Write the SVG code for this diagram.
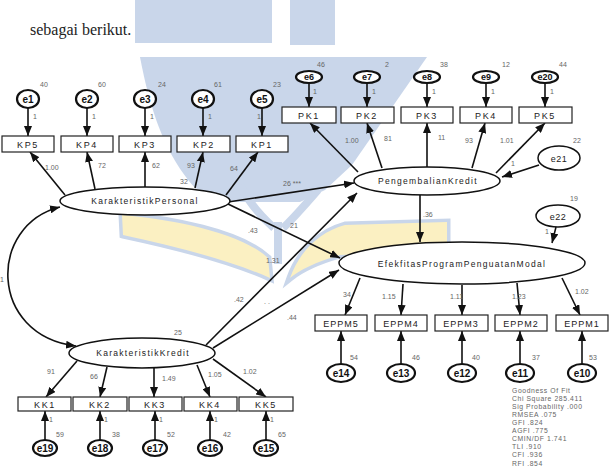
<svg xmlns="http://www.w3.org/2000/svg" width="610" height="470" viewBox="0 0 610 470">
<defs>
<marker id="ah" markerWidth="10" markerHeight="8" refX="10" refY="4" orient="auto-start-reverse" markerUnits="userSpaceOnUse"><path d="M0,0 L10,4 L0,8 z" fill="#111"/></marker>
<style>
.wb{fill:#c9d6ea;stroke:none}
.wy{fill:#fbf0c2;stroke:#c9d6ea;stroke-width:7;paint-order:stroke}
.wl{fill:none;stroke:#c9d6ea;stroke-width:8}
.c{fill:none;stroke:#111;stroke-width:1.6;marker-end:url(#ah)}
.box{fill:#fff;stroke:#222;stroke-width:1.2}
.lat{fill:#fff;stroke:#111;stroke-width:1.5}
.err{fill:#fff;stroke:#111;stroke-width:2.2}
text{font-family:"Liberation Sans",Arial,sans-serif}
.bl{font-size:9px;letter-spacing:1.6px;fill:#222;text-anchor:middle}
.ll{font-size:8.5px;letter-spacing:1.3px;fill:#222;text-anchor:middle}
.el{font-size:10px;font-weight:bold;fill:#111;text-anchor:middle}
.es{font-size:9px;font-weight:bold;fill:#111;text-anchor:middle}
.n{font-size:7px;fill:#666}
.g{font-size:6.8px;fill:#666;letter-spacing:0.6px}
</style>
</defs>
<rect width="610" height="470" fill="#fff"/>
<g id="watermark">
<rect class="wb" x="135" y="0" width="137" height="43"/>
<rect class="wb" x="290" y="0" width="45" height="45"/>
<path class="wb" d="M140,57 L427,57 L352,165 L325,190 L300,202 L230,202 L195,188 C165,155 150,110 140,57 Z"/>
<path class="wy" d="M122,215 C170,219 240,232 268,258 L270,278 C230,260 170,245 123,235 Z"/>
<path class="wy" d="M290,278 C300,250 320,232 345,225 L447,222 L447,250 L340,255 C315,262 300,270 290,278 Z"/>
<path class="wl" d="M240,185 C250,205 265,220 274,228"/>
<path class="wl" d="M318,190 C305,205 292,220 283,228"/>
<rect class="wb" x="274" y="222" width="8" height="42"/>
</g>
<text x="30" y="35" font-size="16" fill="#222" style="font-family:'Liberation Serif',serif">sebagai berikut.</text>
<g id="connectors">
<line class="c" x1="28" y1="108" x2="28" y2="136"/>
<line class="c" x1="87" y1="108" x2="87" y2="136"/>
<line class="c" x1="145" y1="108" x2="145" y2="136"/>
<line class="c" x1="203" y1="108" x2="203" y2="136"/>
<line class="c" x1="262" y1="108" x2="262" y2="136"/>
<line class="c" x1="65" y1="195" x2="30" y2="152"/>
<line class="c" x1="95" y1="189" x2="87" y2="152"/>
<line class="c" x1="145" y1="187" x2="145" y2="152"/>
<line class="c" x1="195" y1="188" x2="203" y2="152"/>
<line class="c" x1="226" y1="195" x2="258" y2="152"/>
<path class="c" d="M60,207 C-12,225 -12,335 76,346" style="marker-start:url(#ah)"/>
<line class="c" x1="77" y1="361" x2="46" y2="397"/>
<line class="c" x1="107" y1="367" x2="100" y2="397"/>
<line class="c" x1="154" y1="368" x2="154" y2="397"/>
<line class="c" x1="197" y1="365" x2="210" y2="397"/>
<line class="c" x1="213" y1="359" x2="266" y2="397"/>
<line class="c" x1="45" y1="440" x2="45" y2="411"/>
<line class="c" x1="100" y1="440" x2="100" y2="411"/>
<line class="c" x1="155" y1="440" x2="155" y2="411"/>
<line class="c" x1="210" y1="440" x2="210" y2="411"/>
<line class="c" x1="266" y1="440" x2="266" y2="411"/>
<line class="c" x1="309" y1="83" x2="309" y2="107"/>
<line class="c" x1="367" y1="83" x2="367" y2="107"/>
<line class="c" x1="427" y1="83" x2="427" y2="107"/>
<line class="c" x1="486" y1="83" x2="486" y2="107"/>
<line class="c" x1="545" y1="83" x2="545" y2="107"/>
<line class="c" x1="358" y1="172" x2="310" y2="123"/>
<line class="c" x1="382" y1="168" x2="367" y2="123"/>
<line class="c" x1="427" y1="167" x2="427" y2="123"/>
<line class="c" x1="472" y1="168" x2="485" y2="123"/>
<line class="c" x1="496" y1="173" x2="545" y2="123"/>
<line class="c" x1="539" y1="165" x2="502" y2="177"/>
<line class="c" x1="228" y1="202" x2="354" y2="183"/>
<line class="c" x1="228" y1="204" x2="340" y2="258"/>
<line class="c" x1="206" y1="345" x2="357" y2="193"/>
<line class="c" x1="213" y1="348" x2="339" y2="270"/>
<line class="c" x1="420" y1="195" x2="420" y2="242"/>
<line class="c" x1="556" y1="227" x2="552" y2="243"/>
<line class="c" x1="360" y1="278" x2="345" y2="315"/>
<line class="c" x1="403" y1="284" x2="401" y2="315"/>
<line class="c" x1="462" y1="285" x2="462" y2="315"/>
<line class="c" x1="517" y1="283" x2="520" y2="315"/>
<line class="c" x1="562" y1="278" x2="580" y2="315"/>
<line class="c" x1="341" y1="364" x2="341" y2="331"/>
<line class="c" x1="401" y1="364" x2="401" y2="331"/>
<line class="c" x1="462" y1="364" x2="462" y2="331"/>
<line class="c" x1="520" y1="364" x2="520" y2="331"/>
<line class="c" x1="582" y1="364" x2="582" y2="331"/>
</g>
<g id="labels">
<text class="n" x="40" y="87">40</text><text class="n" x="98" y="87">60</text><text class="n" x="158" y="87">24</text><text class="n" x="214" y="87">61</text><text class="n" x="273" y="87">23</text>
<text class="n" x="33" y="119">1</text><text class="n" x="92" y="119">1</text><text class="n" x="150" y="119">1</text><text class="n" x="208" y="119">1</text><text class="n" x="257" y="119">1</text>
<text class="n" x="45" y="170">1.00</text><text class="n" x="98" y="168">72</text><text class="n" x="152" y="168">62</text><text class="n" x="187" y="168">93</text><text class="n" x="230" y="171">64</text><text class="n" x="180" y="184">32</text>
<text class="n" x="0" y="282">1</text>
<text class="n" x="283" y="186">26 ***</text><text class="n" x="248" y="233">.43</text><text class="n" x="290" y="228">21</text><text class="n" x="266" y="263">1.31</text>
<text class="n" x="234" y="302">.42</text><text class="n" x="264" y="304">. .</text><text class="n" x="287" y="320">.44</text>
<text class="n" x="174" y="335">25</text>
<text class="n" x="47" y="374">91</text><text class="n" x="90" y="379">66</text><text class="n" x="162" y="381">1.49</text><text class="n" x="208" y="377">1.05</text><text class="n" x="243" y="374">1.02</text>
<text class="n" x="49" y="422">1</text><text class="n" x="104" y="422">1</text><text class="n" x="159" y="422">1</text><text class="n" x="214" y="422">1</text><text class="n" x="270" y="422">1</text>
<text class="n" x="56" y="437">59</text><text class="n" x="112" y="437">38</text><text class="n" x="167" y="437">52</text><text class="n" x="223" y="437">42</text><text class="n" x="278" y="437">65</text>
<text class="n" x="317" y="67">46</text><text class="n" x="385" y="67">2</text><text class="n" x="440" y="67">38</text><text class="n" x="502" y="67">12</text><text class="n" x="559" y="67">44</text>
<text class="n" x="313" y="94">1</text><text class="n" x="372" y="94">1</text><text class="n" x="432" y="94">1</text><text class="n" x="491" y="94">1</text><text class="n" x="550" y="94">1</text>
<text class="n" x="345" y="143">1.00</text><text class="n" x="384" y="141">81</text><text class="n" x="438" y="140">11</text><text class="n" x="465" y="143">93</text><text class="n" x="500" y="143">1.01</text><text class="n" x="573" y="143">22</text>
<text class="n" x="511" y="166">1</text>
<text class="n" x="423" y="217">.36</text>
<text class="n" x="570" y="201">19</text><text class="n" x="545" y="234">1</text>
<text class="n" x="343" y="297">34</text><text class="n" x="382" y="299">1.15</text><text class="n" x="450" y="299">1.11</text><text class="n" x="512" y="299">1.23</text><text class="n" x="575" y="294">1.02</text>
<text class="n" x="350" y="360">54</text><text class="n" x="412" y="360">46</text><text class="n" x="472" y="360">40</text><text class="n" x="532" y="360">37</text><text class="n" x="589" y="360">53</text>
</g>
<g id="fit">
<text class="g" x="512" y="393">Goodness Of Fit</text>
<text class="g" x="512" y="401">Chi Square  285.411</text>
<text class="g" x="512" y="409">Sig Probability   .000</text>
<text class="g" x="512" y="417">RMSEA   .075</text>
<text class="g" x="512" y="425">GFI   .824</text>
<text class="g" x="512" y="433">AGFI   .775</text>
<text class="g" x="512" y="441">CMIN/DF   1.741</text>
<text class="g" x="512" y="449">TLI   .910</text>
<text class="g" x="512" y="457">CFI   .936</text>
<text class="g" x="512" y="466">RFI   .854</text>
</g>
<g id="e1"><ellipse class="err" cx="28" cy="99" rx="11" ry="9"/><text class="el" x="28" y="103">e1</text></g>
<g id="e2"><ellipse class="err" cx="87" cy="99" rx="11" ry="9"/><text class="el" x="87" y="103">e2</text></g>
<g id="e3"><ellipse class="err" cx="145" cy="99" rx="11" ry="9"/><text class="el" x="145" y="103">e3</text></g>
<g id="e4"><ellipse class="err" cx="203" cy="99" rx="11" ry="9"/><text class="el" x="203" y="103">e4</text></g>
<g id="e5"><ellipse class="err" cx="262" cy="99" rx="11" ry="9"/><text class="el" x="262" y="103">e5</text></g>
<g id="KP5"><rect class="box" x="2" y="136" width="52" height="16"/><text class="bl" x="28" y="148">KP5</text></g>
<g id="KP4"><rect class="box" x="61" y="136" width="52" height="16"/><text class="bl" x="87" y="148">KP4</text></g>
<g id="KP3"><rect class="box" x="119" y="136" width="52" height="16"/><text class="bl" x="145" y="148">KP3</text></g>
<g id="KP2"><rect class="box" x="177" y="136" width="53" height="16"/><text class="bl" x="204" y="148">KP2</text></g>
<g id="KP1"><rect class="box" x="236" y="136" width="52" height="16"/><text class="bl" x="262" y="148">KP1</text></g>
<g id="KarakteristikPersonal"><ellipse class="lat" cx="145" cy="201" rx="85" ry="14"/><text class="ll" x="145" y="204">KarakteristikPersonal</text></g>
<g id="KarakteristikKredit"><ellipse class="lat" cx="142" cy="353" rx="73" ry="15"/><text class="ll" x="143" y="356">KarakteristikKredit</text></g>
<g id="KK1"><rect class="box" x="18" y="397" width="53" height="14"/><text class="bl" x="45" y="408">KK1</text></g>
<g id="KK2"><rect class="box" x="73" y="397" width="54" height="14"/><text class="bl" x="100" y="408">KK2</text></g>
<g id="KK3"><rect class="box" x="129" y="397" width="53" height="14"/><text class="bl" x="155" y="408">KK3</text></g>
<g id="KK4"><rect class="box" x="184" y="397" width="53" height="14"/><text class="bl" x="210" y="408">KK4</text></g>
<g id="KK5"><rect class="box" x="239" y="397" width="54" height="14"/><text class="bl" x="266" y="408">KK5</text></g>
<g id="e19"><ellipse class="err" cx="45" cy="448" rx="12" ry="8"/><text class="el" x="45" y="452">e19</text></g>
<g id="e18"><ellipse class="err" cx="100" cy="448" rx="12" ry="8"/><text class="el" x="100" y="452">e18</text></g>
<g id="e17"><ellipse class="err" cx="155" cy="448" rx="12" ry="8"/><text class="el" x="155" y="452">e17</text></g>
<g id="e16"><ellipse class="err" cx="210" cy="448" rx="12" ry="8"/><text class="el" x="210" y="452">e16</text></g>
<g id="e15"><ellipse class="err" cx="266" cy="448" rx="12" ry="8"/><text class="el" x="266" y="452">e15</text></g>
<g id="e6"><ellipse class="err" cx="309" cy="77" rx="13" ry="6"/><text class="es" x="309" y="80">e6</text></g>
<g id="e7"><ellipse class="err" cx="367" cy="77" rx="13" ry="6"/><text class="es" x="367" y="80">e7</text></g>
<g id="e8"><ellipse class="err" cx="427" cy="77" rx="13" ry="6"/><text class="es" x="427" y="80">e8</text></g>
<g id="e9"><ellipse class="err" cx="486" cy="77" rx="13" ry="6"/><text class="es" x="486" y="80">e9</text></g>
<g id="e20"><ellipse class="err" cx="545" cy="77" rx="13" ry="6"/><text class="es" x="545" y="80">e20</text></g>
<g id="PK1"><rect class="box" x="282" y="107" width="54" height="16"/><text class="bl" x="309" y="119">PK1</text></g>
<g id="PK2"><rect class="box" x="341" y="107" width="53" height="16"/><text class="bl" x="367" y="119">PK2</text></g>
<g id="PK3"><rect class="box" x="401" y="107" width="52" height="16"/><text class="bl" x="427" y="119">PK3</text></g>
<g id="PK4"><rect class="box" x="460" y="107" width="52" height="16"/><text class="bl" x="486" y="119">PK4</text></g>
<g id="PK5"><rect class="box" x="519" y="107" width="53" height="16"/><text class="bl" x="545" y="119">PK5</text></g>
<g id="PengembalianKredit"><ellipse class="lat" cx="427" cy="181" rx="73" ry="14"/><text class="ll" x="428" y="184">PengembalianKredit</text></g>
<g id="e21"><ellipse class="lat" cx="559" cy="158" rx="21" ry="12"/><text class="bl" x="559" y="162" style="letter-spacing:0.5px">e21</text></g>
<g id="e22"><ellipse class="lat" cx="558" cy="216" rx="22" ry="11"/><text class="bl" x="558" y="220" style="letter-spacing:0.5px">e22</text></g>
<g id="EfekfitasProgramPenguatanModal"><ellipse class="lat" cx="462" cy="263" rx="123" ry="21"/><text class="ll" x="462" y="267">EfekfitasProgramPenguatanModal</text></g>
<g id="EPPM5"><rect class="box" x="315" y="315" width="52" height="16"/><text class="bl" x="341" y="327" style="letter-spacing:1px">EPPM5</text></g>
<g id="EPPM4"><rect class="box" x="375" y="315" width="52" height="16"/><text class="bl" x="401" y="327" style="letter-spacing:1px">EPPM4</text></g>
<g id="EPPM3"><rect class="box" x="435" y="315" width="53" height="16"/><text class="bl" x="461" y="327" style="letter-spacing:1px">EPPM3</text></g>
<g id="EPPM2"><rect class="box" x="495" y="315" width="52" height="16"/><text class="bl" x="521" y="327" style="letter-spacing:1px">EPPM2</text></g>
<g id="EPPM1"><rect class="box" x="556" y="315" width="52" height="16"/><text class="bl" x="582" y="327" style="letter-spacing:1px">EPPM1</text></g>
<g id="e14"><ellipse class="err" cx="341" cy="373" rx="14" ry="9"/><text class="el" x="341" y="377">e14</text></g>
<g id="e13"><ellipse class="err" cx="401" cy="373" rx="14" ry="9"/><text class="el" x="401" y="377">e13</text></g>
<g id="e12"><ellipse class="err" cx="462" cy="373" rx="14" ry="9"/><text class="el" x="462" y="377">e12</text></g>
<g id="e11"><ellipse class="err" cx="520" cy="373" rx="14" ry="9"/><text class="el" x="520" y="377">e11</text></g>
<g id="e10"><ellipse class="err" cx="582" cy="373" rx="14" ry="9"/><text class="el" x="582" y="377">e10</text></g>
</svg>
